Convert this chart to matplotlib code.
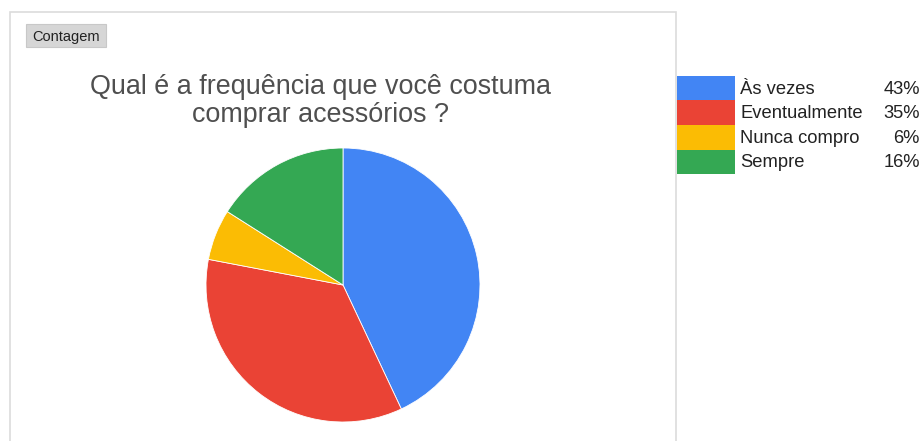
import matplotlib
matplotlib.use("Agg")
import matplotlib.pyplot as plt
from matplotlib.patches import Rectangle

plt.rcParams['font.family'] = ['Liberation Sans', 'DejaVu Sans']

categories = ["Às vezes", "Eventualmente", "Nunca compro", "Sempre"]
values = [43, 35, 6, 16]
colors = ["#4285F4", "#EA4335", "#FBBC04", "#34A853"]
title = "Qual é a frequência que você costuma\ncomprar acessórios ?"

W, H = 923, 441
fig = plt.figure(figsize=(W / 100, H / 100), dpi=100)
fig.patch.set_facecolor("white")


def px(x, y):
    return x / W, 1 - y / H


# chart frame
fig.patches.append(Rectangle((10 / W, -0.05), (676 - 10) / W, 1.05 - 12 / H,
                             transform=fig.transFigure, facecolor="white",
                             edgecolor="#dcdcdc", linewidth=1.2, zorder=-2))

# "Contagem" chip
fig.patches.append(Rectangle((26 / W, 1 - 47 / H), 80 / W, 23 / H,
                             transform=fig.transFigure, facecolor="#d6d6d6",
                             edgecolor="#c8c8c8", linewidth=0.8, zorder=1))
fig.text(*px(66, 36.5), "Contagem", ha="center", va="center", fontsize=10.5,
         color="#222222")

# title
fig.text(*px(320, 101), title, ha="center", va="center", fontsize=19.4,
         color="#4f4f4f", linespacing=1.05)

# pie
cx, cy, r = 343, 285, 137
ax = fig.add_axes([(cx - r) / W, 1 - (cy + r) / H, 2 * r / W, 2 * r / H])
ax.set_zorder(5)
ax.pie(values, colors=colors, startangle=90, counterclock=False,
       wedgeprops=dict(edgecolor="white", linewidth=0.6))
ax.set_xlim(-1, 1)
ax.set_ylim(-1, 1)
ax.set_aspect("auto")
ax.axis("off")

# legend
total = sum(values)
row_top = 76
row_h = 24.5
for i, (cat, val, col) in enumerate(zip(categories, values, colors)):
    y0 = row_top + i * row_h
    fig.patches.append(Rectangle((677 / W, 1 - (y0 + row_h) / H), 58 / W,
                                 row_h / H, transform=fig.transFigure,
                                 facecolor=col, edgecolor="none", zorder=2))
    fig.text(*px(740, y0 + row_h / 2 + 1), cat, ha="left", va="center",
             fontsize=13.2, color="#222222")
    fig.text(*px(920, y0 + row_h / 2 + 1), f"{round(100 * val / total)}%",
             ha="right", va="center", fontsize=13.2, color="#222222")

fig.savefig("out.png", dpi=100, facecolor="white")
